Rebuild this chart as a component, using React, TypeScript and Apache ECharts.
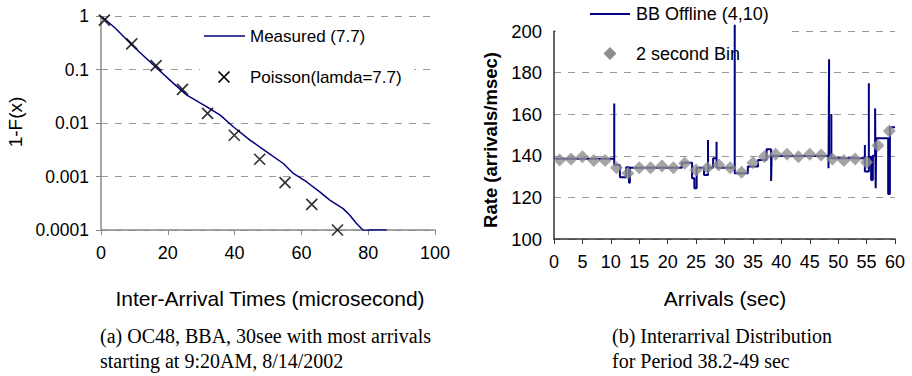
import React, { useEffect, useRef } from 'react';
import * as echarts from 'echarts';

// ---- Chart (a): 1-F(x) of inter-arrival times ----
const measuredX = [0.3, 4.3, 9.8, 15.7, 21.7, 25.7, 31.7, 35.7, 39.6, 44.6, 49.6, 54.6, 57.6, 61.6, 65.5, 68.5, 72.5, 74.5, 76.5, 78.5, 79.5, 80.5, 85.5];
const measuredY = [0.97, 0.59, 0.267, 0.121, 0.055, 0.0332, 0.0201, 0.014, 0.0085, 0.0048, 0.0029, 0.00175, 0.00114, 0.00079, 0.000515, 0.000363, 0.000251, 0.000189, 0.000132, 0.0000989, 0.0000975, 0.0001, 0.0001];
const poissonX = [1.0, 9.2, 16.5, 24.4, 31.9, 39.9, 47.5, 55.1, 63.1, 70.8];
const poissonY = [0.84, 0.3, 0.118, 0.0425, 0.0151, 0.0059, 0.0021, 0.00077, 0.0003, 0.0001];

// ---- Chart (b): arrival rate ----
const binX = [1, 3, 5, 7, 9, 11, 13, 15, 17, 19, 21, 23, 25, 27, 29, 31, 33, 35, 37, 39, 41, 43, 45, 47, 49, 51, 53, 55, 57, 59];
const binY = [138, 138.5, 139.6, 137.7, 137.7, 134.3, 131.6, 134.3, 134.3, 135.1, 134.3, 136.4, 133.2, 134.3, 135.6, 134.3, 132.1, 136.7, 139.6, 140.7, 140.7, 139.6, 140.7, 140.4, 138.5, 137.7, 138.5, 136.9, 144.9, 151.9];
const bbX = [0, 10.6, 10.6, 10.6, 11.6, 11.6, 12.7, 12.7, 13.2, 13.2, 13.35, 13.35, 22.5, 22.5, 24.3, 24.3, 24.7, 24.7, 25.1, 25.1, 26.4, 26.4, 27.1, 27.1, 27.1, 28.0, 28.0, 28.6, 28.6, 28.6, 31.8, 31.8, 31.8, 34.1, 34.1, 35.9, 35.9, 37.4, 37.4, 38.2, 38.2, 38.3, 38.3, 48.3, 48.3, 48.4, 48.4, 48.4, 48.8, 48.8, 48.8, 54.7, 54.7, 54.7, 55.4, 55.4, 55.4, 55.8, 55.8, 56.1, 56.1, 56.5, 56.5, 56.6, 56.6, 56.7, 56.7, 58.8, 58.8, 59.1, 59.1, 60];
const bbY = [138.6, 138.6, 165.2, 135.6, 135.6, 129.7, 129.7, 134.5, 134.5, 127, 127, 134.3, 134.3, 136.6, 136.6, 129.2, 129.2, 124.4, 124.4, 134.3, 134.3, 130.8, 130.8, 147.6, 134.3, 134.3, 138.8, 138.8, 146.8, 134.3, 134.3, 203, 131.6, 131.6, 134.8, 134.8, 138, 138, 143.1, 143.1, 127.9, 127.9, 139.9, 139.9, 134, 134, 186.4, 139, 139, 160.1, 138.8, 138.8, 145.2, 132.4, 132.4, 174.9, 139.6, 139.6, 128.4, 128.4, 140, 140, 162.8, 162.8, 124.4, 124.4, 148.4, 148.4, 121.6, 121.6, 153.7, 153.7];

const SANS = 'Liberation Sans, Arial, sans-serif';
const SERIF = 'Liberation Serif, Times New Roman, serif';

export default function App() {
  const ref = useRef<HTMLDivElement>(null);
  useEffect(() => {
    document.body.style.margin = '0';
    if (!ref.current) return;
    const chart = echarts.init(ref.current, undefined, { renderer: 'svg' });
    const dashed = { show: true, lineStyle: { color: '#9a9a9a', type: [7, 7] as any, width: 1 } };
    const logFmt = (v: number) => {
      const e = Math.round(Math.log10(v));
      return e >= 0 ? '1' : v.toFixed(-e);
    };
    chart.setOption({
      animation: false,
      backgroundColor: '#fff',
      textStyle: { fontFamily: SANS },
      grid: [
        { left: 101, right: 477, top: 16, bottom: 146 },
        { left: 554, right: 17, top: 31, bottom: 137 },
      ],
      xAxis: [
        {
          gridIndex: 0, type: 'value', min: 0, max: 100, interval: 20,
          axisLine: { lineStyle: { color: '#888', width: 1.5 } },
          axisTick: { show: true, inside: false, length: 5, lineStyle: { color: '#888' } },
          axisLabel: { color: '#000', fontSize: 18, margin: 14, fontFamily: SANS },
          splitLine: { show: false },
        },
        {
          gridIndex: 1, type: 'value', min: 0, max: 60, interval: 5,
          axisLine: { lineStyle: { color: '#333', width: 1.5 } },
          axisTick: { show: true, length: 5, lineStyle: { color: '#333' } },
          axisLabel: { color: '#000', fontSize: 18, margin: 14, fontFamily: SANS },
          splitLine: { show: false },
        },
      ],
      yAxis: [
        {
          gridIndex: 0, type: 'log', logBase: 10, min: 0.0001, max: 1,
          axisLine: { show: true, lineStyle: { color: '#888', width: 1.5 } },
          axisTick: { show: true, length: 5, lineStyle: { color: '#888' } },
          axisLabel: { color: '#000', fontSize: 17.5, margin: 12, formatter: logFmt, fontFamily: SANS },
          splitLine: dashed,
        },
        {
          gridIndex: 1, type: 'value', min: 100, max: 200, interval: 20,
          axisLine: { show: true, lineStyle: { color: '#333', width: 1.5 } },
          axisTick: { show: false },
          axisLabel: { color: '#000', fontSize: 18.5, margin: 12, fontFamily: SANS },
          splitLine: dashed,
        },
      ],
      series: [
        {
          name: 'Measured (7.7)', type: 'line', xAxisIndex: 0, yAxisIndex: 0,
          data: measuredX.map((x, i) => [x, measuredY[i]]),
          showSymbol: false, symbol: 'none', smooth: false,
          lineStyle: { color: '#000080', width: 1.5 },
          z: 3,
        },
        {
          name: 'Poisson(lamda=7.7)', type: 'scatter', xAxisIndex: 0, yAxisIndex: 0,
          data: poissonX.map((x, i) => [x, poissonY[i]]),
          symbol: 'path://M0,0L10,10M10,0L0,10', symbolSize: 11,
          itemStyle: { color: 'none', borderColor: '#000', borderWidth: 1.7 },
          z: 4,
        },
        {
          name: 'BB Offline (4,10)', type: 'line', xAxisIndex: 1, yAxisIndex: 1,
          data: bbX.map((x, i) => [x, bbY[i]]),
          showSymbol: false, symbol: 'none', clip: false,
          lineStyle: { color: '#000080', width: 2 },
          z: 3,
        },
        {
          name: '2 second Bin', type: 'scatter', xAxisIndex: 1, yAxisIndex: 1,
          data: binX.map((x, i) => [x, binY[i]]),
          symbol: 'diamond', symbolSize: [13, 13],
          itemStyle: { color: '#8e8e8e' },
          z: 4,
        },
      ],
      graphic: [
        // legend backgrounds hiding grid lines
        { type: 'rect', z: 1, shape: { x: 200, y: 25, width: 214, height: 64 }, style: { fill: '#fff' } },
        { type: 'rect', z: 1, shape: { x: 556, y: 0, width: 234, height: 64 }, style: { fill: '#fff' } },
        // legend (a)
        { type: 'line', z: 5, shape: { x1: 204, y1: 36, x2: 245, y2: 36 }, style: { stroke: '#000080', lineWidth: 1.5 } },
        { type: 'text', z: 5, x: 250, y: 36, style: { text: 'Measured (7.7)', font: `17px ${SANS}`, fill: '#000', textVerticalAlign: 'middle' } },
        { type: 'line', z: 5, shape: { x1: 218.5, y1: 71.5, x2: 229.5, y2: 82.5 }, style: { stroke: '#000', lineWidth: 1.7 } },
        { type: 'line', z: 5, shape: { x1: 229.5, y1: 71.5, x2: 218.5, y2: 82.5 }, style: { stroke: '#000', lineWidth: 1.7 } },
        { type: 'text', z: 5, x: 250, y: 77, style: { text: 'Poisson(lamda=7.7)', font: `17px ${SANS}`, fill: '#000', textVerticalAlign: 'middle' } },
        // legend (b)
        { type: 'line', z: 5, shape: { x1: 590, y1: 14, x2: 630, y2: 14 }, style: { stroke: '#000080', lineWidth: 2 } },
        { type: 'text', z: 1, x: 636, y: 14, style: { text: 'BB Offline (4,10)', font: `18px ${SANS}`, fill: '#000', textVerticalAlign: 'middle' } },
        { type: 'polygon', z: 5, shape: { points: [[610, 47], [616.5, 53.5], [610, 60], [603.5, 53.5]] }, style: { fill: '#8e8e8e' } },
        { type: 'text', z: 1, x: 636, y: 54, style: { text: '2 second Bin', font: `18px ${SANS}`, fill: '#000', textVerticalAlign: 'middle' } },
        // axis titles
        { type: 'text', x: 15, y: 122, rotation: Math.PI / 2, style: { text: '1-F(x)', font: `19px ${SANS}`, fill: '#000', textAlign: 'center', textVerticalAlign: 'middle' } },
        { type: 'text', x: 490, y: 140, rotation: Math.PI / 2, style: { text: 'Rate (arrivals/msec)', font: `bold 18.5px ${SANS}`, fill: '#000', textAlign: 'center', textVerticalAlign: 'middle' } },
        { type: 'text', x: 270, y: 298, style: { text: 'Inter-Arrival Times (microsecond)', font: `21px ${SANS}`, fill: '#000', textAlign: 'center', textVerticalAlign: 'middle' } },
        { type: 'text', x: 725, y: 298, style: { text: 'Arrivals (sec)', font: `21px ${SANS}`, fill: '#000', textAlign: 'center', textVerticalAlign: 'middle' } },
        // captions
        { type: 'text', x: 100, y: 336, style: { text: '(a) OC48, BBA, 30see with most arrivals', font: `20px ${SERIF}`, fill: '#000', textVerticalAlign: 'middle' } },
        { type: 'text', x: 100, y: 361, style: { text: 'starting at 9:20AM, 8/14/2002', font: `20px ${SERIF}`, fill: '#000', textVerticalAlign: 'middle' } },
        { type: 'text', x: 612, y: 336, style: { text: '(b) Interarrival Distribution', font: `20px ${SERIF}`, fill: '#000', textVerticalAlign: 'middle' } },
        { type: 'text', x: 612, y: 361, style: { text: 'for Period 38.2-49 sec', font: `20px ${SERIF}`, fill: '#000', textVerticalAlign: 'middle' } },
      ],
    });
    return () => chart.dispose();
  }, []);
  return <div ref={ref} style={{ width: 912, height: 376 }} />;
}
